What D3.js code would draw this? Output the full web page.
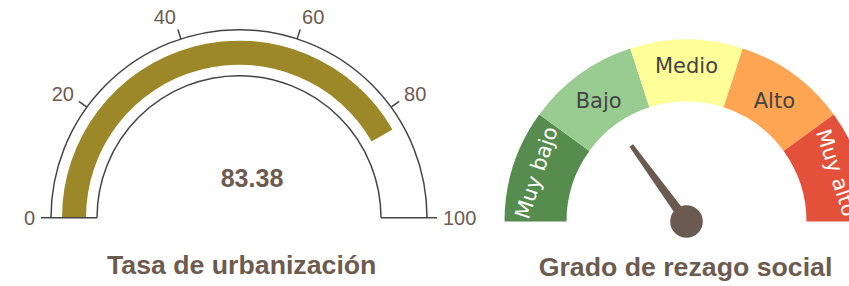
<!DOCTYPE html>
<html>
<head>
<meta charset="utf-8">
<script src="https://cdn.jsdelivr.net/npm/d3@7"></script>
<style>
  body { margin: 0; background: #fff; }
  svg { display: block; }
</style>
</head>
<body>
<div id="chart-area"></div>
<script>
// data
var urbanValue = 83.38
var urbanTicks = [0, 20, 40, 60, 80, 100]
var urbanTitle = "Tasa de urbanización"

var rezagoLevels = ["Muy bajo", "Bajo", "Medio", "Alto", "Muy alto"]
var rezagoColors = ["#568c4e", "#99cc90", "#ffff99", "#fda552", "#e3513b"]
var rezagoText = ["#ffffff", "#444444", "#444444", "#444444", "#ffffff"]
var rezagoValue = 1.5 // position of the needle, in level units (0-5)
var rezagoTitle = "Grado de rezago social"

var width = 849, height = 286
var brown = "#6d5b50"

var svg = d3.select("#chart-area").append("svg")
    .attr("width", width)
    .attr("height", height)

// ---------- left gauge: Tasa de urbanizacion ----------
var g1 = svg.append("g").attr("transform", "translate(239,217.7)")
var rOut = 188, rIn = 142

var angle = d3.scaleLinear()
    .domain([0, 100])
    .range([-Math.PI / 2, Math.PI / 2])

// value band
g1.append("path")
    .attr("d", d3.arc()({
        innerRadius: 153, outerRadius: 177,
        startAngle: angle(0), endAngle: angle(urbanValue)
    }))
    .attr("fill", "#9d8829")

// frame: outer + inner arcs and the base line
var lineCol = "#444444"
g1.append("path")
    .attr("d", d3.arc()({ innerRadius: rOut, outerRadius: rOut, startAngle: angle(0), endAngle: angle(100) }))
    .attr("fill", "none").attr("stroke", lineCol).attr("stroke-width", 1.5)
g1.append("path")
    .attr("d", d3.arc()({ innerRadius: rIn, outerRadius: rIn, startAngle: angle(0), endAngle: angle(100) }))
    .attr("fill", "none").attr("stroke", lineCol).attr("stroke-width", 1.5)
g1.append("line").attr("x1", -rOut).attr("x2", -rIn).attr("y1", 0).attr("y2", 0)
    .attr("stroke", lineCol).attr("stroke-width", 1.5)
g1.append("line").attr("x1", rIn).attr("x2", rOut).attr("y1", 0).attr("y2", 0)
    .attr("stroke", lineCol).attr("stroke-width", 1.5)

// ticks
g1.selectAll(".tick").data(urbanTicks).enter()
    .append("line")
    .attr("class", "tick")
    .attr("x1", function(d) { return rOut * Math.sin(angle(d)) })
    .attr("y1", function(d) { return -rOut * Math.cos(angle(d)) })
    .attr("x2", function(d) { return (rOut + 10) * Math.sin(angle(d)) })
    .attr("y2", function(d) { return -(rOut + 10) * Math.cos(angle(d)) })
    .attr("stroke", lineCol).attr("stroke-width", 1.5)

g1.selectAll(".tlabel").data(urbanTicks).enter()
    .append("text")
    .attr("class", "tlabel")
    .attr("x", function(d) { return 204 * Math.sin(angle(d)) })
    .attr("y", function(d) { return -211 * Math.cos(angle(d)) })
    .attr("dy", "0.35em")
    .attr("text-anchor", function(d) { return d < 50 ? "end" : (d > 50 ? "start" : "middle") })
    .style("font-family", "'Liberation Sans', Arial, sans-serif")
    .style("font-size", "20px")
    .style("fill", brown)
    .text(function(d) { return d })

g1.append("text")
    .attr("x", 13)
    .attr("y", -30.5)
    .attr("text-anchor", "middle")
    .style("font-family", "'Liberation Sans', Arial, sans-serif")
    .style("font-size", "25px")
    .style("font-weight", "bold")
    .style("fill", brown)
    .text(d3.format(".2f")(urbanValue))

svg.append("text")
    .attr("x", 241.7)
    .attr("y", 274)
    .attr("text-anchor", "middle")
    .style("font-family", "'Liberation Sans', Arial, sans-serif")
    .style("font-size", "26.7px")
    .style("font-weight", "bold")
    .style("fill", brown)
    .text(urbanTitle)

// ---------- right gauge: Grado de rezago social ----------
var cx2 = 686.5, cy2 = 221.5
var g2 = svg.append("g").attr("transform", "translate(" + cx2 + "," + cy2 + ")")
var r2Out = 182, r2In = 120

var angle2 = d3.scaleLinear()
    .domain([0, rezagoLevels.length])
    .range([-Math.PI / 2, Math.PI / 2])

var band = d3.arc().innerRadius(r2In).outerRadius(r2Out)

g2.selectAll(".band").data(rezagoLevels).enter()
    .append("path")
    .attr("class", "band")
    .attr("d", function(d, i) { return band({ startAngle: angle2(i), endAngle: angle2(i + 1) }) })
    .attr("fill", function(d, i) { return rezagoColors[i] })

g2.selectAll(".blabel").data(rezagoLevels).enter()
    .append("text")
    .attr("class", "blabel")
    .attr("transform", function(d, i) {
        var a = angle2(i + 0.5)
        var edge = (i == 0 || i == rezagoLevels.length - 1)
        var r = edge ? 158 : 148 + 8 * Math.pow(Math.cos(a), 8)
        var x = r * Math.sin(a), y = -r * Math.cos(a)
        var rot = edge ? a * 180 / Math.PI : 0
        return "translate(" + x + "," + y + ") rotate(" + rot + ")"
    })
    .attr("dy", "0.35em")
    .attr("text-anchor", "middle")
    .style("font-family", "'DejaVu Sans', Verdana, sans-serif")
    .style("font-size", "21px")
    .style("fill", function(d, i) { return rezagoText[i] })
    .text(function(d) { return d })

// needle
var na = angle2(rezagoValue)
var nLen = 94, nBase = 5, nTip = 2.2
var ux = Math.sin(na), uy = -Math.cos(na)
var px = -uy, py = ux
var needle = [
    [px * nBase, py * nBase],
    [ux * nLen + px * nTip, uy * nLen + py * nTip],
    [ux * nLen - px * nTip, uy * nLen - py * nTip],
    [-px * nBase, -py * nBase]
]
g2.append("path")
    .attr("d", d3.line()(needle) + "Z")
    .attr("fill", "#6b5a4f")
g2.append("circle")
    .attr("r", 16.3)
    .attr("fill", "#6b5a4f")

svg.append("text")
    .attr("x", 685.5)
    .attr("y", 276)
    .attr("text-anchor", "middle")
    .style("font-family", "'Liberation Sans', Arial, sans-serif")
    .style("font-size", "26.7px")
    .style("font-weight", "bold")
    .style("fill", brown)
    .text(rezagoTitle)
</script>
</body>
</html>
